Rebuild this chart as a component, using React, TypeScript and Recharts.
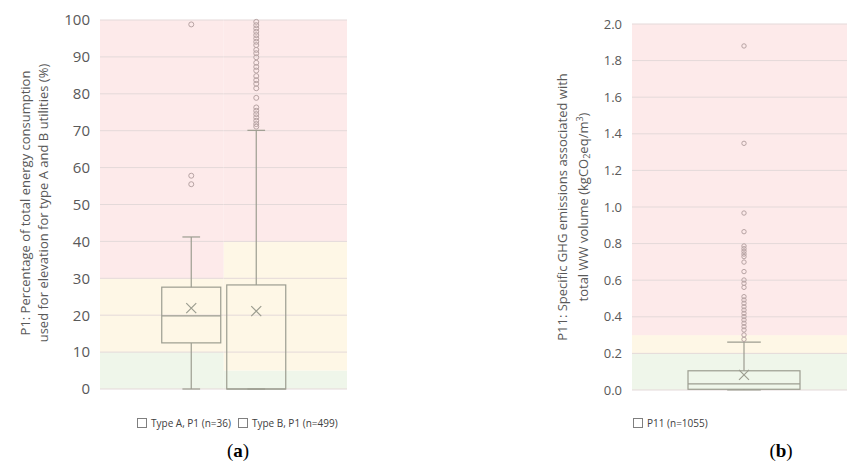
import React from 'react';
import { ComposedChart, Bar, XAxis, YAxis } from 'recharts';

// ---- panel (a): P1, share of energy used for elevation (%)
const p1Series = ['Type A, P1 (n=36)', 'Type B, P1 (n=499)'];
const p1Min = [0, 0];
const p1Q1 = [12.5, 0];
const p1Median = [19.8, 0];
const p1Q3 = [27.6, 28.2];
const p1Max = [41.2, 70.1];
const p1Mean = [21.9, 21.1];
const p1OutliersA = [55.5, 57.8, 98.8];
const p1OutliersB = [
  71.1, 71.8, 72.7, 73.6, 74.5, 75.4, 76.3, 78.9, 81.5, 82.7, 83.7, 84.8, 86.3,
  87.3, 88.4, 89.9, 91.0, 91.9, 93.2, 94.1, 95.0, 95.9, 96.8, 97.7, 98.6, 99.5,
];
const p1Ticks = [0, 10, 20, 30, 40, 50, 60, 70, 80, 90, 100];
// traffic light limits per type: good below green, acceptable below yellow
const p1Green = [10, 5];
const p1Yellow = [30, 40];

// ---- panel (b): P11, specific GHG emissions
const p11Series = ['P11 (n=1055)'];
const p11Min = [0];
const p11Q1 = [0.004];
const p11Median = [0.033];
const p11Q3 = [0.105];
const p11Max = [0.262];
const p11Mean = [0.083];
const p11Outliers = [
  0.277, 0.301, 0.328, 0.346, 0.365, 0.383, 0.401, 0.419, 0.437, 0.455, 0.474,
  0.492, 0.51, 0.561, 0.583, 0.601, 0.647, 0.699, 0.729, 0.743, 0.758, 0.772,
  0.787, 0.865, 0.967, 1.348, 1.88,
];
const p11Ticks = [0, 0.2, 0.4, 0.6, 0.8, 1.0, 1.2, 1.4, 1.6, 1.8, 2.0];
const p11Green = [0.2];
const p11Yellow = [0.3];

const RED = '#fdeaea';
const YELLOW = '#fef7e6';
const GREEN = '#eff6ea';
const GRID = '#e4d9d9';
const BOX = '#9c9d90';
const DOT = '#b7a3a3';
const TEXT = '#595959';
const FONT = '"Open Sans", sans-serif';

type Stats = {
  min: number;
  q1: number;
  median: number;
  q3: number;
  max: number;
  mean: number;
  outliers: number[];
};

// background zone for one series: green / yellow / red limits and grid values
type Zone = { green: number; yellow: number; top: number; ticks: number[]; left?: number; right?: number };

function BoxShape(props: any) {
  const { x, y, width, height, stats, zone, dotR } = props;
  const s: Stats = stats;
  const z: Zone = zone;
  const top = Math.min(y, y + height);
  const h = Math.abs(height);
  // pixels per unit, taken from the bar that spans q1..q3
  const unit = h / (s.q3 - s.q1);
  const base = top + h;
  const py = (v: number) => base - (v - s.q1) * unit;
  const cx = x + width / 2;
  const cap = width * 0.3;
  const m = 5;
  const zl = z.left ?? x - 3;
  const zr = z.right ?? x + width + 3;
  const bands = [
    { lo: 0, hi: z.green, fill: GREEN },
    { lo: z.green, hi: z.yellow, fill: YELLOW },
    { lo: z.yellow, hi: z.top, fill: RED },
  ];
  return (
    <g>
      {bands.map((b, i) => (
        <rect key={i} x={zl} y={py(b.hi)} width={zr - zl} height={py(b.lo) - py(b.hi)} fill={b.fill} />
      ))}
      {z.ticks.map((t) => (
        <line key={t} x1={zl} x2={zr} y1={py(t)} y2={py(t)} stroke={GRID} strokeWidth={1} />
      ))}
      <line x1={cx} x2={cx} y1={py(s.q3)} y2={py(s.max)} stroke={BOX} strokeWidth={1.2} />
      <line x1={cx - cap / 2} x2={cx + cap / 2} y1={py(s.max)} y2={py(s.max)} stroke={BOX} strokeWidth={1.2} />
      <line x1={cx} x2={cx} y1={py(s.q1)} y2={py(s.min)} stroke={BOX} strokeWidth={1.2} />
      <line x1={cx - cap / 2} x2={cx + cap / 2} y1={py(s.min)} y2={py(s.min)} stroke={BOX} strokeWidth={1.2} />
      <rect x={x} y={top} width={width} height={h} fill="none" stroke={BOX} strokeWidth={1.2} />
      <line x1={x} x2={x + width} y1={py(s.median)} y2={py(s.median)} stroke={BOX} strokeWidth={1.2} />
      <path
        d={`M${cx - m},${py(s.mean) - m}L${cx + m},${py(s.mean) + m}M${cx + m},${py(s.mean) - m}L${cx - m},${py(s.mean) + m}`}
        stroke={BOX}
        strokeWidth={1.2}
      />
      {s.outliers.map((v, i) => (
        <circle key={i} cx={cx} cy={py(v)} r={dotR} fill="none" stroke={DOT} strokeWidth={1} />
      ))}
    </g>
  );
}

function AxisTitle({ lines, x1, x2, cy, size }: { lines: React.ReactNode[]; x1: number; x2: number; cy: number; size: number }) {
  return (
    <g>
      {[x1, x2].map((cx, i) => (
        <text
          key={i}
          x={cx}
          y={cy}
          transform={`rotate(-90 ${cx} ${cy})`}
          textAnchor="middle"
          dominantBaseline="central"
          fill={TEXT}
          fontSize={size}
          fontFamily={FONT}
        >
          {lines[i]}
        </text>
      ))}
    </g>
  );
}

function LegendItem({ label }: { label: string }) {
  return (
    <span style={{ display: 'inline-flex', alignItems: 'center', marginRight: 7 }}>
      <span style={{ width: 8, height: 8, border: '1px solid #7f7f7f', display: 'inline-block', marginRight: 4 }} />
      {label}
    </span>
  );
}

const statsOf = (i: number, min: number[], q1: number[], med: number[], q3: number[], max: number[], mean: number[], out: number[]): Stats => ({
  min: min[i],
  q1: q1[i],
  median: med[i],
  q3: q3[i],
  max: max[i],
  mean: mean[i],
  outliers: out,
});

export default function App() {
  const statsA = statsOf(0, p1Min, p1Q1, p1Median, p1Q3, p1Max, p1Mean, p1OutliersA);
  const statsB = statsOf(1, p1Min, p1Q1, p1Median, p1Q3, p1Max, p1Mean, p1OutliersB);
  const statsP11 = statsOf(0, p11Min, p11Q1, p11Median, p11Q3, p11Max, p11Mean, p11Outliers);

  const dataA = [{ cat: 'P1', a: [p1Q1[0], p1Q3[0]], b: [p1Q1[1], p1Q3[1]] }];
  const dataB = [{ cat: 'P11', v: [p11Q1[0], p11Q3[0]] }];

  // plot edges follow the margins / axis widths below
  const zoneA: Zone = { green: p1Green[0], yellow: p1Yellow[0], top: 100, ticks: p1Ticks, left: 100 };
  const zoneB: Zone = { green: p1Green[1], yellow: p1Yellow[1], top: 100, ticks: p1Ticks, right: 347 };
  const zoneP11: Zone = { green: p11Green[0], yellow: p11Yellow[0], top: 2, ticks: p11Ticks, left: 92, right: 316 };

  return (
    <div style={{ position: 'absolute', left: 0, top: 0, width: 847, height: 475, overflow: 'hidden', background: '#fff' }}>
      <div style={{ position: 'absolute', left: 0, top: 0 }}>
        <ComposedChart width={360} height={400} data={dataA} margin={{ top: 20, right: 13, bottom: 11, left: 0 }} barCategoryGap="25%" barGap={6}>
          <XAxis dataKey="cat" hide />
          <YAxis
            width={100}
            domain={[0, 100]}
            ticks={p1Ticks}
            axisLine={false}
            tickLine={false}
            tickMargin={4}
            tick={{ fill: TEXT, fontSize: 15, fontFamily: FONT }}
          />
          <Bar dataKey="a" name={p1Series[0]} isAnimationActive={false} shape={(p: any) => <BoxShape {...p} stats={statsA} zone={zoneA} dotR={2.5} />} />
          <Bar dataKey="b" name={p1Series[1]} isAnimationActive={false} shape={(p: any) => <BoxShape {...p} stats={statsB} zone={zoneB} dotR={2.5} />} />
          <AxisTitle
            lines={['P1: Percentage of total energy consumption', 'used for elevation for type A and B utilities (%)']}
            x1={25}
            x2={43}
            cy={203}
            size={13}
          />
        </ComposedChart>
      </div>

      <div style={{ position: 'absolute', left: 540, top: 0 }}>
        <ComposedChart width={316} height={400} data={dataB} margin={{ top: 24, right: 0, bottom: 10, left: 0 }} barCategoryGap="25%">
          <XAxis dataKey="cat" hide />
          <YAxis
            width={92}
            domain={[0, 2]}
            ticks={p11Ticks}
            axisLine={false}
            tickLine={false}
            tickMargin={4}
            tickFormatter={(v: number) => v.toFixed(1)}
            tick={{ fill: TEXT, fontSize: 13, fontFamily: FONT }}
          />
          <Bar dataKey="v" name={p11Series[0]} isAnimationActive={false} shape={(p: any) => <BoxShape {...p} stats={statsP11} zone={zoneP11} dotR={2.2} />} />
          <AxisTitle
            lines={[
              'P11: Specific GHG emissions associated with',
              <>
                total WW volume (kgCO
                <tspan dy={3} fontSize={9}>2</tspan>
                <tspan dy={-3}>eq/m</tspan>
                <tspan dy={-4} fontSize={9}>3</tspan>
                <tspan dy={4}>)</tspan>
              </>,
            ]}
            x1={22}
            x2={43}
            cy={207}
            size={13}
          />
        </ComposedChart>
      </div>

      <div style={{ position: 'absolute', left: 137, top: 416, fontFamily: FONT, fontSize: 10, color: '#404040', whiteSpace: 'nowrap' }}>
        {p1Series.map((s) => (
          <LegendItem key={s} label={s} />
        ))}
      </div>
      <div style={{ position: 'absolute', left: 633, top: 416, fontFamily: FONT, fontSize: 10, color: '#404040', whiteSpace: 'nowrap' }}>
        {p11Series.map((s) => (
          <LegendItem key={s} label={s} />
        ))}
      </div>
      <div style={{ position: 'absolute', left: 218, top: 440, width: 40, textAlign: 'center', fontFamily: '"Liberation Serif", serif', fontSize: 19, color: '#000' }}>
        (<b>a</b>)
      </div>
      <div style={{ position: 'absolute', left: 761, top: 440, width: 40, textAlign: 'center', fontFamily: '"Liberation Serif", serif', fontSize: 19, color: '#000' }}>
        (<b>b</b>)
      </div>
    </div>
  );
}
